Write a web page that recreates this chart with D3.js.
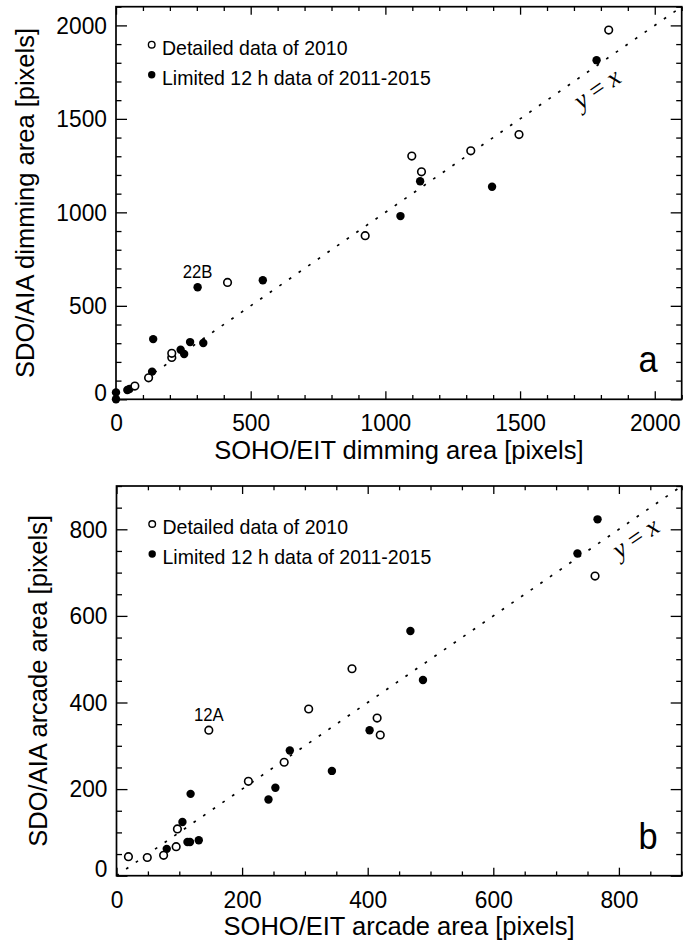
<!DOCTYPE html>
<html>
<head>
<meta charset="utf-8">
<script src="https://cdn.jsdelivr.net/npm/d3@7"></script>
<style>
  html, body { margin: 0; padding: 0; background: #fff; }
  svg { display: block; }
</style>
</head>
<body>
<div id="chart"></div>
<script>
/* Panel a: dimming area, SOHO/EIT (x) vs SDO/AIA (y), pixels */
const DIM_OPEN_X   = [70, 121, 207, 207, 414, 925, 1098, 1134, 1317, 1496, 1829];
const DIM_OPEN_Y   = [71, 115, 224, 246, 625, 875, 1301, 1217, 1329, 1416, 1975];
const DIM_FILLED_X = [0, 0, 42, 50, 134, 138, 240, 253, 275, 303, 324, 545, 1056, 1129, 1396, 1784];
const DIM_FILLED_Y = [0, 37, 50, 55, 148, 322, 265, 242, 306, 599, 301, 637, 980, 1166, 1137, 1814];
const DIM_TICKS    = [0, 500, 1000, 1500, 2000];

/* Panel b: arcade area */
const ARC_OPEN_X   = [19, 49, 75, 95, 97, 147, 210, 267, 306, 375, 415, 420, 762];
const ARC_OPEN_Y   = [44, 42, 47, 67, 108, 336, 218, 262, 385, 478, 364, 325, 692];
const ARC_FILLED_X = [80, 105, 113, 117, 118, 131, 242, 253, 276, 343, 403, 468, 488, 734, 766];
const ARC_FILLED_Y = [62, 124, 78, 78, 189, 82, 176, 203, 289, 242, 336, 565, 452, 744, 823];
const ARC_TICKS    = [0, 200, 400, 600, 800];

const LEGEND_LABELS = ['Detailed data of 2010', 'Limited 12 h data of 2011-2015'];
const NOTE_LABELS   = ['22B', '12A'];          // event ids written above one point
const NOTE_X        = [303, 147];
const NOTE_Y        = [599, 336];
const YX_LABEL_X    = [1787, 827];             // where "y = x" sits, data units
const YX_LABEL_Y    = [1658, 779];

(function () {
  const W = 685, H = 944;
  const SANS  = '"Liberation Sans", Arial, Helvetica, sans-serif';
  const SERIF = '"Liberation Serif", "Times New Roman", Times, serif';
  const NARROW = 0.93;   // the original lettering is a bit condensed

  const PANELS = [
    { left: 116, right: 681.7, top: 6.7, bottom: 399.3, max: 2100, minorStep: 100,
      ticks: DIM_TICKS, open: [DIM_OPEN_X, DIM_OPEN_Y], filled: [DIM_FILLED_X, DIM_FILLED_Y],
      xTitle: 'SOHO/EIT dimming area [pixels]', yTitle: 'SDO/AIA dimming area [pixels]',
      yTitleX: 34, letter: 'a', note: 0 },
    { left: 116.5, right: 681.7, top: 486, bottom: 875.7, max: 900, minorStep: 50,
      ticks: ARC_TICKS, open: [ARC_OPEN_X, ARC_OPEN_Y], filled: [ARC_FILLED_X, ARC_FILLED_Y],
      xTitle: 'SOHO/EIT arcade area [pixels]', yTitle: 'SDO/AIA arcade area [pixels]',
      yTitleX: 46.6, letter: 'b', note: 1 }
  ];

  const svg = d3.select('#chart').append('svg')
    .attr('width', W).attr('height', H)
    .attr('viewBox', `0 0 ${W} ${H}`);

  function zip(xs, ys) { return xs.map((v, i) => [v, ys[i]]); }

  // text squeezed horizontally around its own anchor
  function narrowText(parent, x, y, size, sx) {
    return parent.append('text')
      .attr('transform', `translate(${x},${y}) scale(${sx},1)`)
      .attr('font-family', SANS).attr('font-size', size).attr('fill', '#000');
  }

  function styleAxis(sel, fontSize) {
    sel.select('.domain').remove();
    sel.attr('font-family', SANS).attr('font-size', fontSize);
    sel.selectAll('.tick line').attr('stroke', '#000').attr('stroke-width', 1.3);
    sel.selectAll('.tick text').attr('fill', '#000');
  }

  function drawPanel(p, idx) {
    const x = d3.scaleLinear().domain([0, p.max]).range([p.left, p.right]);
    const y = d3.scaleLinear().domain([0, p.max]).range([p.bottom, p.top]);
    const minor = d3.range(0, p.max + 1, p.minorStep).filter(v => !p.ticks.includes(v));
    const g = svg.append('g').attr('class', 'panel-' + p.letter);

    // ticks point inward on all four sides; labels only bottom/left
    const sides = [
      { make: () => d3.axisBottom(x), at: `translate(0,${p.bottom})`, major: 8,  minor: 4.3, labels: true },
      { make: () => d3.axisTop(x),    at: `translate(0,${p.top})`,    major: 8,  minor: 4.3, labels: false },
      { make: () => d3.axisLeft(y),   at: `translate(${p.left},0)`,   major: 11, minor: 5.5, labels: true },
      { make: () => d3.axisRight(y),  at: `translate(${p.right},0)`,  major: 11, minor: 5.5, labels: false }
    ];
    sides.forEach((s, i) => {
      const isX = i < 2;
      g.append('g').attr('transform', s.at)
        .call(s.make().tickValues(minor).tickSize(-s.minor).tickFormat(''))
        .call(sel => styleAxis(sel, 24));
      const axis = s.make().tickValues(p.ticks).tickSize(-s.major);
      if (s.labels) axis.tickPadding(isX ? 14.5 : 9).tickFormat(d3.format('d'));
      else axis.tickFormat('');
      const ax = g.append('g').attr('transform', s.at).call(axis).call(sel => styleAxis(sel, 24.5));
      if (s.labels) {
        ax.selectAll('.tick text').attr('transform', `scale(${NARROW},1)`);
        if (!isX) ax.selectAll('.tick text').attr('x', -9 / NARROW);
      }
      if (i === 2) {
        // the zero label is lifted so it sits above the x axis line
        ax.selectAll('.tick text').filter(d => d === 0).attr('dy', '0.03em');
      }
    });

    g.append('rect')
      .attr('x', p.left).attr('y', p.top)
      .attr('width', p.right - p.left).attr('height', p.bottom - p.top)
      .attr('fill', 'none').attr('stroke', '#000').attr('stroke-width', 1.7);

    // y = x reference
    g.append('line')
      .attr('x1', x(0)).attr('y1', y(0)).attr('x2', x(p.max)).attr('y2', y(p.max))
      .attr('stroke', '#000').attr('stroke-width', 1.7)
      .attr('stroke-dasharray', '2.7 9');

    const angle = -Math.atan2(y(0) - y(1), x(1) - x(0)) * 180 / Math.PI;
    const yx = g.append('text')
      .attr('transform', `translate(${x(YX_LABEL_X[idx])},${y(YX_LABEL_Y[idx])}) rotate(${angle})`)
      .attr('text-anchor', 'middle').attr('dy', '0.3em')
      .attr('font-family', SERIF).attr('font-size', 26).attr('fill', '#000');
    yx.append('tspan').attr('font-style', 'italic').text('y');
    yx.append('tspan').text(' = ');
    yx.append('tspan').attr('font-style', 'italic').text('x');

    g.append('g').selectAll('circle')
      .data(zip(p.filled[0], p.filled[1]))
      .join('circle')
      .attr('cx', d => x(d[0])).attr('cy', d => y(d[1])).attr('r', 4.2)
      .attr('fill', '#000');

    g.append('g').selectAll('circle')
      .data(zip(p.open[0], p.open[1]))
      .join('circle')
      .attr('cx', d => x(d[0])).attr('cy', d => y(d[1])).attr('r', 3.8)
      .attr('fill', '#fff').attr('stroke', '#000').attr('stroke-width', 1.6);

    narrowText(g, x(NOTE_X[p.note]), y(NOTE_Y[p.note]) - 9.5, 18, NARROW)
      .attr('text-anchor', 'middle')
      .text(NOTE_LABELS[p.note]);

    // legend
    const lg = g.append('g').attr('transform', `translate(${p.left},${p.top})`);
    LEGEND_LABELS.forEach((lab, i) => {
      const cy = 38 + i * 30;
      lg.append('circle')
        .attr('cx', 35.7).attr('cy', cy).attr('r', i === 0 ? 3.3 : 3.7)
        .attr('fill', i === 0 ? '#fff' : '#000')
        .attr('stroke', '#000').attr('stroke-width', i === 0 ? 1.4 : 0);
      narrowText(lg, 46, cy + 9.8, 21, 0.93).text(lab);
    });

    narrowText(g, p.right - 24, p.bottom - 27, 37, NARROW)
      .attr('text-anchor', 'end')
      .text(p.letter);

    g.append('text')
      .attr('x', (p.left + p.right) / 2).attr('y', p.bottom + 59.5)
      .attr('text-anchor', 'middle')
      .attr('font-family', SANS).attr('font-size', 25.5)
      .text(p.xTitle);

    g.append('text')
      .attr('transform', `translate(${p.yTitleX},${(p.top + p.bottom) / 2}) rotate(-90)`)
      .attr('text-anchor', 'middle')
      .attr('font-family', SANS).attr('font-size', 25.5)
      .text(p.yTitle);
  }

  PANELS.forEach(drawPanel);
})();
</script>
</body>
</html>
